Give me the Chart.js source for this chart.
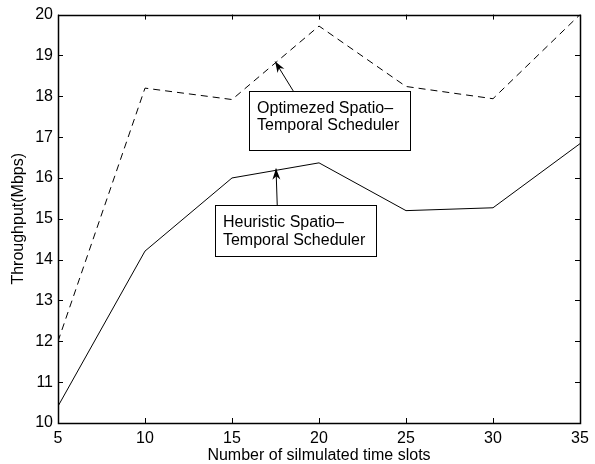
<!DOCTYPE html>
<html>
<head>
<meta charset="utf-8">
<script src="https://cdn.jsdelivr.net/npm/chart.js@4/dist/chart.umd.min.js"></script>
<style>
  html, body { margin: 0; padding: 0; background: #ffffff; }
  #wrap { width: 595px; height: 464px; }
</style>
</head>
<body>
<div id="wrap"><canvas id="c" width="595" height="464"></canvas></div>
<script>
// ---- data ----
const timeSlots = [5, 10, 15, 20, 25, 30, 35];
const heuristicThroughput = [10.41, 14.21, 16.0, 16.37, 15.2, 15.27, 16.84];
const optimizedThroughput = [12.0, 18.2, 17.92, 19.72, 18.24, 17.94, 20.0];
const xTicks = [5, 10, 15, 20, 25, 30, 35];
const yTicks = [10, 11, 12, 13, 14, 15, 16, 17, 18, 19, 20];
const xTitle = 'Number of silmulated time slots';
const yTitle = 'Throughput(Mbps)';

// annotation text boxes (data units): box corners, arrow tail and tip
const optLabel = ['Optimezed Spatio\u2013', 'Temporal Scheduler'];
const optBox = [15.98, 18.13, 25.23, 16.69];
const optArrow = [18.52, 18.13, 17.48, 18.85];
const heuLabel = ['Heuristic Spatio\u2013', 'Temporal Scheduler'];
const heuBox = [14.02, 15.33, 23.28, 14.09];
const heuArrow = [17.6, 15.33, 17.53, 16.23];

const FONT = '"Liberation Sans", Arial, Helvetica, sans-serif';

const framePlugin = {
  id: 'frame',
  afterDraw(chart) {
    const ctx = chart.ctx;
    const xs = chart.scales.x, ys = chart.scales.y;
    const a = chart.chartArea;
    ctx.save();
    ctx.strokeStyle = '#000';
    ctx.lineWidth = 1;
    // inward ticks on four sides
    const tl = 5;
    ctx.beginPath();
    xTicks.forEach(v => {
      const px = Math.round(xs.getPixelForValue(v)) + 0.5;
      ctx.moveTo(px, a.bottom); ctx.lineTo(px, a.bottom - tl);
      ctx.moveTo(px, a.top); ctx.lineTo(px, a.top + tl);
    });
    yTicks.forEach(v => {
      const py = Math.round(ys.getPixelForValue(v)) + 0.5;
      ctx.moveTo(a.left, py); ctx.lineTo(a.left + tl, py);
      ctx.moveTo(a.right, py); ctx.lineTo(a.right - tl, py);
    });
    ctx.stroke();
    // axes box
    ctx.lineWidth = 1.5;
    ctx.strokeRect(Math.round(a.left) + 0.5, Math.round(a.top) + 0.5,
                   Math.round(a.right - a.left), Math.round(a.bottom - a.top));

    // y axis title (rotated, centred on the axis)
    ctx.save();
    ctx.translate(19, (a.top + a.bottom) / 2);
    ctx.rotate(-Math.PI / 2);
    ctx.fillStyle = '#000';
    ctx.font = '16px ' + FONT;
    ctx.textAlign = 'center';
    ctx.textBaseline = 'middle';
    ctx.fillText(yTitle, 0, 0);
    ctx.restore();

    const drawNote = (lines, box, arrow) => {
      const x1 = xs.getPixelForValue(box[0]), y1 = ys.getPixelForValue(box[1]);
      const x2 = xs.getPixelForValue(box[2]), y2 = ys.getPixelForValue(box[3]);
      // arrow
      const tx = xs.getPixelForValue(arrow[0]), ty = ys.getPixelForValue(arrow[1]);
      const hx = xs.getPixelForValue(arrow[2]), hy = ys.getPixelForValue(arrow[3]);
      ctx.lineWidth = 1;
      ctx.strokeStyle = '#000';
      ctx.beginPath(); ctx.moveTo(tx, ty); ctx.lineTo(hx, hy); ctx.stroke();
      const ang = Math.atan2(hy - ty, hx - tx);
      const L = 11, W = 4;
      const bx = hx - L * Math.cos(ang), by = hy - L * Math.sin(ang);
      const nx = -Math.sin(ang), ny = Math.cos(ang);
      const mx = hx - L * 0.7 * Math.cos(ang), my = hy - L * 0.7 * Math.sin(ang);
      ctx.fillStyle = '#000';
      ctx.beginPath();
      ctx.moveTo(hx, hy);
      ctx.lineTo(bx + nx * W, by + ny * W);
      ctx.lineTo(mx, my);
      ctx.lineTo(bx - nx * W, by - ny * W);
      ctx.closePath();
      ctx.fill();
      // box
      ctx.fillStyle = '#fff';
      ctx.fillRect(x1, y1, x2 - x1, y2 - y1);
      ctx.lineWidth = 1;
      ctx.strokeRect(Math.round(x1) + 0.5, Math.round(y1) + 0.5, Math.round(x2 - x1), Math.round(y2 - y1));
      ctx.fillStyle = '#000';
      ctx.font = '16px ' + FONT;
      ctx.textBaseline = 'alphabetic';
      ctx.textAlign = 'left';
      lines.forEach((t, i) => {
        ctx.fillText(t, x1 + 8, y1 + 22 + i * 17.5);
      });
    };
    drawNote(optLabel, optBox, optArrow);
    drawNote(heuLabel, heuBox, heuArrow);
    ctx.restore();
  }
};

new Chart(document.getElementById('c'), {
  type: 'line',
  data: {
    datasets: [
      {
        label: 'Optimezed Spatio-Temporal Scheduler',
        data: timeSlots.map((x, i) => ({ x: x, y: optimizedThroughput[i] })),
        borderColor: '#000', borderWidth: 1, borderDash: [7, 5],
        pointRadius: 0, fill: false, tension: 0
      },
      {
        label: 'Heuristic Spatio-Temporal Scheduler',
        data: timeSlots.map((x, i) => ({ x: x, y: heuristicThroughput[i] })),
        borderColor: '#000', borderWidth: 1,
        pointRadius: 0, fill: false, tension: 0
      }
    ]
  },
  options: {
    responsive: false,
    animation: false,
    devicePixelRatio: 1,
    layout: { padding: { top: 12, right: 15, left: 0, bottom: 0 } },
    plugins: { legend: { display: false }, tooltip: { enabled: false } },
    scales: {
      x: {
        type: 'linear', min: 5, max: 35,
        afterBuildTicks: s => { s.ticks = xTicks.map(v => ({ value: v })); },
        afterFit: s => { s.height = 41; },
        grid: { display: false, drawTicks: false },
        border: { display: false },
        ticks: { color: '#000', padding: 6, maxRotation: 0, font: { family: FONT, size: 16 } },
        title: { display: true, text: xTitle, color: '#000', padding: 0,
                 font: { family: FONT, size: 16, lineHeight: 1.0 } }
      },
      y: {
        type: 'linear', min: 10, max: 20,
        afterBuildTicks: s => { s.ticks = yTicks.map(v => ({ value: v })); },
        afterFit: s => { s.width = 58; },
        grid: { display: false, drawTicks: false },
        border: { display: false },
        ticks: { color: '#000', padding: 5, font: { family: FONT, size: 16 } },
        title: { display: false }
      }
    }
  },
  plugins: [framePlugin]
});
</script>
</body>
</html>
